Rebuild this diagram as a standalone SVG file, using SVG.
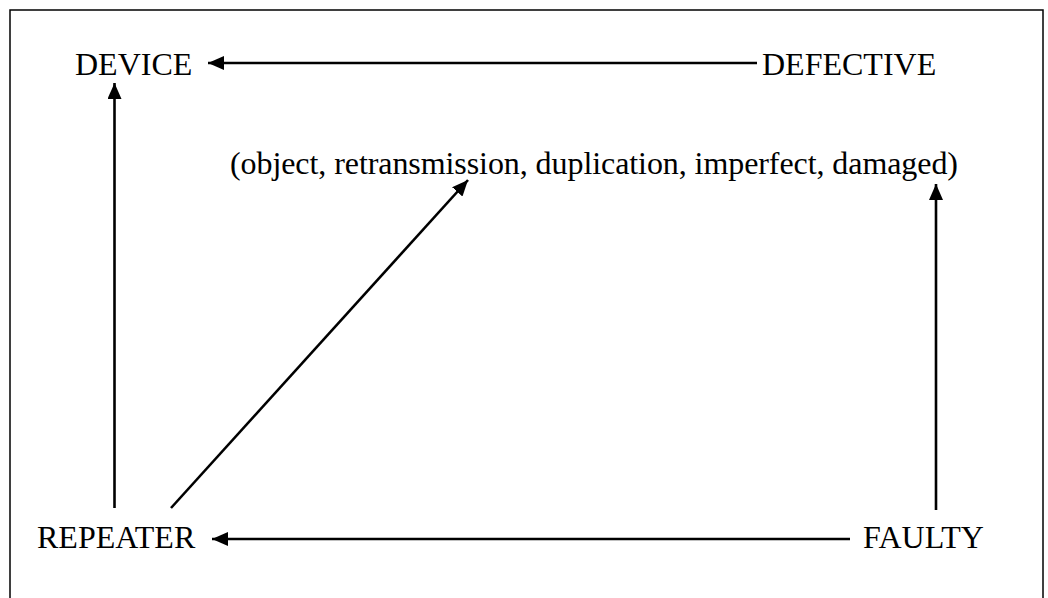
<svg xmlns="http://www.w3.org/2000/svg" width="1048" height="598" viewBox="0 0 1048 598">
<style>
text{font-family:"Liberation Serif","Times New Roman",serif;font-size:32px;fill:#000}
.c{stroke:#000;stroke-width:2.6;fill:none;marker-end:url(#ah)}
</style>
<defs>
<marker id="ah" viewBox="0 0 16 14" refX="16" refY="7" markerWidth="16" markerHeight="14" markerUnits="userSpaceOnUse" orient="auto">
<path d="M0,0 L16,7 L0,14 Z" fill="#000"/>
</marker>
</defs>
<rect x="0" y="0" width="1048" height="598" fill="#fff"/>
<rect x="10" y="10" width="1033" height="620" fill="none" stroke="#000" stroke-width="1.5"/>
<g id="connectors">
<line class="c" x1="757" y1="63" x2="208" y2="63"/>
<line class="c" x1="114.5" y1="508" x2="114.5" y2="83"/>
<line class="c" x1="171" y1="508" x2="468" y2="180"/>
<line class="c" x1="936" y1="510" x2="936" y2="184"/>
<line class="c" x1="850" y1="539" x2="212" y2="539"/>
</g>
<g id="device"><text x="75" y="75">DEVICE</text></g>
<g id="defective"><text x="762" y="75">DEFECTIVE</text></g>
<g id="tuple"><text x="230" y="174" textLength="728">(object, retransmission, duplication, imperfect, damaged)</text></g>
<g id="repeater"><text x="37" y="548">REPEATER</text></g>
<g id="faulty"><text x="863" y="548">FAULTY</text></g>
</svg>
